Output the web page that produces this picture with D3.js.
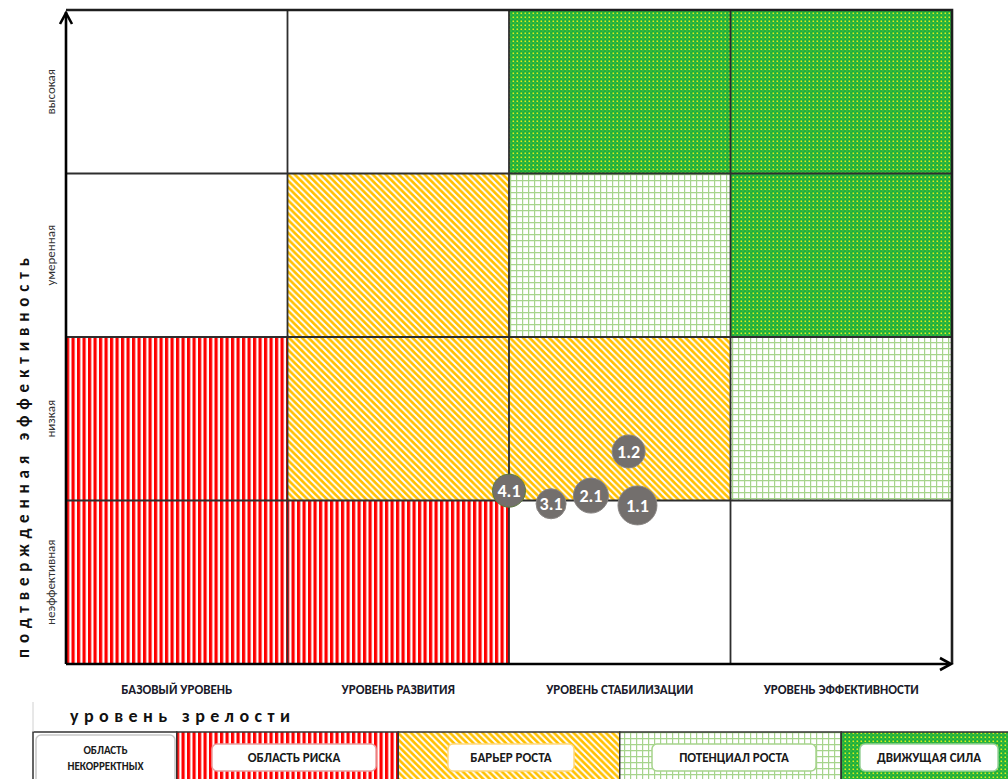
<!DOCTYPE html>
<html>
<head>
<meta charset="utf-8">
<script src="https://cdn.jsdelivr.net/npm/d3@7"></script>
<style>
  html, body { margin: 0; padding: 0; background: #fff; }
  svg { display: block; font-family: Carlito, Lato, "Open Sans", sans-serif; }
</style>
</head>
<body>
<div id="chart"></div>
<script>
// columns: maturity level, rows: efficiency (bottom to top)
const maturityLevels = ["БАЗОВЫЙ УРОВЕНЬ", "УРОВЕНЬ РАЗВИТИЯ", "УРОВЕНЬ СТАБИЛИЗАЦИИ", "УРОВЕНЬ ЭФФЕКТИВНОСТИ"];
const efficiencyLevels = ["неэффективная", "низкая", "умеренная", "высокая"];

const zoneGrid = [
  ["risk", "risk", "none", "none"],
  ["risk", "barrier", "barrier", "potential"],
  ["none", "barrier", "potential", "driver"],
  ["none", "none", "driver", "driver"],
];

const zoneKeys = ["none", "risk", "barrier", "potential", "driver"];
const zoneLabels = [["ОБЛАСТЬ", "НЕКОРРЕКТНЫХ"], ["ОБЛАСТЬ РИСКА"], ["БАРЬЕР РОСТА"], ["ПОТЕНЦИАЛ РОСТА"], ["ДВИЖУЩАЯ СИЛА"]];

const bubbleLabels = ["4.1", "3.1", "2.1", "1.1", "1.2"];
const bubbleMaturity = [2.0, 2.19, 2.37, 2.58, 2.54];
const bubbleEfficiency = [1.06, 0.98, 1.03, 0.97, 1.30];
const bubbleSize = [2.72, 2.25, 3.06, 3.8, 2.72];

const W = 1008, H = 779;
const plot = { left: 66, right: 952, top: 10, bottom: 664 };

const svg = d3.select("#chart").append("svg").attr("width", W).attr("height", H);
const defs = svg.append("defs");

// fill patterns (Excel-like)
const pRisk = defs.append("pattern").attr("id", "p-risk").attr("patternUnits", "userSpaceOnUse")
  .attr("width", 5.5).attr("height", 4);
pRisk.append("rect").attr("width", 5.5).attr("height", 4).attr("fill", "#fff");
pRisk.append("rect").attr("width", 3.2).attr("height", 4).attr("fill", "#ff0000");

const pBarrier = defs.append("pattern").attr("id", "p-barrier").attr("patternUnits", "userSpaceOnUse")
  .attr("width", 6.5).attr("height", 6.5);
pBarrier.append("rect").attr("width", 6.5).attr("height", 6.5).attr("fill", "#ffc000");
pBarrier.append("path").attr("d", "M-1,-1L7.5,7.5M-1,5.5L1,7.5M5.5,-1L7.5,1")
  .attr("stroke", "#fff").attr("stroke-width", 1.9);

const pPotential = defs.append("pattern").attr("id", "p-potential").attr("patternUnits", "userSpaceOnUse")
  .attr("width", 6).attr("height", 6);
pPotential.append("rect").attr("width", 6).attr("height", 6).attr("fill", "#fff");
pPotential.append("path").attr("d", "M0,0H6M0,0V6")
  .attr("stroke", "#a6d48c").attr("stroke-width", 2.4);

const pDriver = defs.append("pattern").attr("id", "p-driver").attr("patternUnits", "userSpaceOnUse")
  .attr("width", 4).attr("height", 4);
pDriver.append("rect").attr("width", 4).attr("height", 4).attr("fill", "#19ae3e");
pDriver.append("rect").attr("x", 0.5).attr("y", 0.5).attr("width", 1.6).attr("height", 1.6).attr("fill", "#e0ee1c");
pDriver.append("rect").attr("x", 2.5).attr("y", 2.5).attr("width", 1).attr("height", 1).attr("fill", "#7fd23a");

const zoneFill = { none: "#fff", risk: "url(#p-risk)", barrier: "url(#p-barrier)",
  potential: "url(#p-potential)", driver: "url(#p-driver)" };

const x = d3.scaleLinear().domain([0, 4]).range([plot.left, plot.right]);
const y = d3.scaleLinear().domain([0, 4]).range([plot.bottom, plot.top]);
const r = d3.scaleSqrt().domain([0, 4]).range([0, 20]);

// cells
const cells = [];
zoneGrid.forEach((row, ri) => row.forEach((zone, ci) => cells.push({ ri, ci, zone })));

svg.append("g").selectAll("rect").data(cells).join("rect")
  .attr("x", (d) => x(d.ci))
  .attr("y", (d) => y(d.ri + 1))
  .attr("width", x(1) - x(0))
  .attr("height", y(0) - y(1))
  .attr("fill", (d) => zoneFill[d.zone]);

// inner grid lines
const gridG = svg.append("g").attr("stroke", "#2e2e2e").attr("stroke-width", 1.8);
gridG.selectAll("line.v").data([1, 2, 3]).join("line").attr("class", "v")
  .attr("x1", (d) => x(d)).attr("x2", (d) => x(d))
  .attr("y1", plot.top).attr("y2", plot.bottom);
gridG.selectAll("line.h").data([1, 2, 3]).join("line").attr("class", "h")
  .attr("x1", plot.left).attr("x2", plot.right)
  .attr("y1", (d) => y(d)).attr("y2", (d) => y(d));

// outer frame (top and right)
svg.append("path")
  .attr("d", `M${plot.left},${plot.top}H${plot.right}V${plot.bottom}`)
  .attr("fill", "none").attr("stroke", "#1e1e1e").attr("stroke-width", 2.6);

// axes with arrow heads
const axisG = svg.append("g").attr("fill", "none").attr("stroke", "#000").attr("stroke-width", 2.6);
axisG.append("path").attr("d", `M${plot.left},${plot.bottom}V${plot.top + 2}`);
axisG.append("path").attr("d", `M${plot.left - 6},${plot.top + 14}L${plot.left},${plot.top + 3}L${plot.left + 6},${plot.top + 14}`);
axisG.append("path").attr("d", `M${plot.left},${plot.bottom}H${plot.right - 2}`);
axisG.append("path").attr("d", `M${plot.right - 12},${plot.bottom - 6}L${plot.right - 1},${plot.bottom}L${plot.right - 12},${plot.bottom + 6}`);

// x category labels
svg.append("g").selectAll("text").data(maturityLevels).join("text")
  .attr("x", (d, i) => x(i + 0.5))
  .attr("y", 694)
  .attr("text-anchor", "middle")
  .attr("font-size", 13)
  .attr("font-weight", 700)
  .attr("fill", "#1a1a2a")
  .text((d) => d);

// y category labels
svg.append("g").selectAll("text").data(efficiencyLevels).join("text")
  .attr("transform", (d, i) => `translate(55,${y(i + 0.5)}) rotate(-90)`)
  .attr("text-anchor", "middle")
  .attr("font-size", 13)
  .attr("fill", "#333")
  .text((d) => d);

// axis titles
svg.append("text")
  .attr("transform", "translate(29,458) rotate(-90)")
  .attr("text-anchor", "middle")
  .attr("font-size", 17)
  .attr("font-weight", 700)
  .attr("fill", "#111")
  .attr("textLength", 400)
  .attr("lengthAdjust", "spacing")
  .text("подтвержденная эффективность");

svg.append("text")
  .attr("x", 70).attr("y", 722)
  .attr("font-size", 18)
  .attr("font-weight", 700)
  .attr("fill", "#111")
  .attr("textLength", 220)
  .attr("lengthAdjust", "spacing")
  .text("уровень зрелости");

// legend
const legendEdges = [33, x(0.5), x(1.5), x(2.5), x(3.5), W + 2];
const legendTop = 732;
const legendBoxes = [[36, 175], [212, 376], [448, 574], [652, 816], [860, 998]];
const legendStroke = ["#c8c8c8", "#e8a0a0", "#ffd980", "#a6d48c", "#9ad29a"];

const lg = svg.append("g");
lg.selectAll("rect.zone").data(zoneKeys).join("rect")
  .attr("class", "zone")
  .attr("x", (d, i) => legendEdges[i])
  .attr("y", legendTop)
  .attr("width", (d, i) => legendEdges[i + 1] - legendEdges[i])
  .attr("height", H - legendTop + 5)
  .attr("fill", (d) => zoneFill[d])
  .attr("stroke", "#333")
  .attr("stroke-width", 1.5);

svg.append("line").attr("x1", 33).attr("x2", 33).attr("y1", 702).attr("y2", legendTop)
  .attr("stroke", "#d0d0d0").attr("stroke-width", 1);

lg.selectAll("rect.box").data(zoneKeys).join("rect")
  .attr("class", "box")
  .attr("x", (d, i) => legendBoxes[i][0])
  .attr("y", (d, i) => (i === 0 ? 735 : 744))
  .attr("width", (d, i) => legendBoxes[i][1] - legendBoxes[i][0])
  .attr("height", (d, i) => (i === 0 ? 60 : 27))
  .attr("rx", 5)
  .attr("fill", "#fff")
  .attr("stroke", (d, i) => legendStroke[i])
  .attr("stroke-width", 1.5);

zoneLabels.forEach((lines, i) => {
  const cx = (legendBoxes[i][0] + legendBoxes[i][1]) / 2;
  const t = lg.append("text")
    .attr("text-anchor", "middle")
    .attr("font-weight", 700)
    .attr("font-size", lines.length > 1 ? 11 : 13)
    .attr("fill", "#1a1a1a");
  lines.forEach((line, k) => {
    t.append("tspan")
      .attr("x", cx)
      .attr("y", lines.length > 1 ? 754 + k * 16 : 762)
      .text(line);
  });
});

// bubbles
const bubbles = bubbleLabels.map((label, i) => ({
  label, mx: bubbleMaturity[i], ey: bubbleEfficiency[i], size: bubbleSize[i],
}));

const bg = svg.append("g").selectAll("g").data(bubbles).join("g")
  .attr("transform", (d) => `translate(${x(d.mx)},${y(d.ey)})`);
bg.append("circle")
  .attr("r", (d) => r(d.size))
  .attr("fill", "#736f6d")
  .attr("stroke", (d, i) => (i === 0 ? "#5e7a3e" : "#8a8684"))
  .attr("stroke-width", 1);
bg.append("text")
  .attr("text-anchor", "middle")
  .attr("dy", "0.36em")
  .attr("font-size", 18)
  .attr("font-weight", 700)
  .attr("fill", "#fff")
  .text((d) => d.label);
</script>
</body>
</html>
